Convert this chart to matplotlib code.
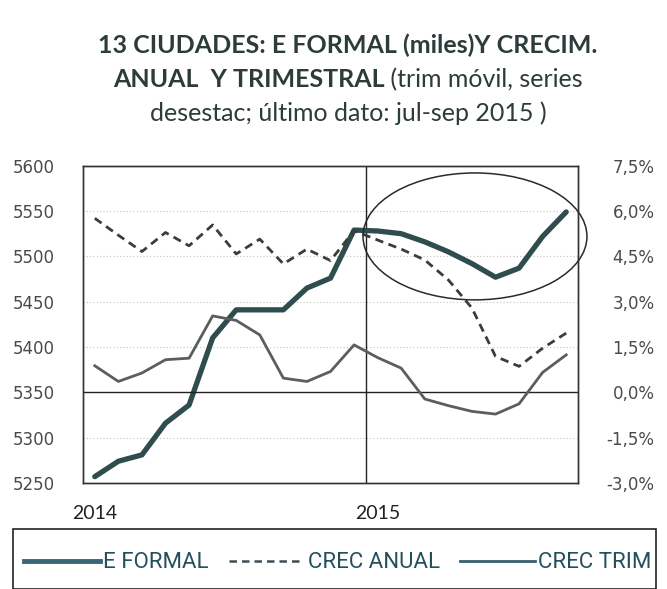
import matplotlib
matplotlib.use('Agg')
import matplotlib.pyplot as plt
from matplotlib.lines import Line2D
from matplotlib.patches import Ellipse, Rectangle
import numpy as np

# trimestre movil, ene-2014 .. sep-2015
meses = ['ene-14', 'feb-14', 'mar-14', 'abr-14', 'may-14', 'jun-14', 'jul-14',
         'ago-14', 'sep-14', 'oct-14', 'nov-14', 'dic-14', 'ene-15', 'feb-15',
         'mar-15', 'abr-15', 'may-15', 'jun-15', 'jul-15', 'ago-15', 'sep-15']
e_formal = [5257, 5274, 5281, 5316, 5336, 5410, 5441, 5441, 5441, 5465, 5476,
            5529, 5528, 5525, 5516, 5505, 5492, 5477, 5487, 5522, 5549]
crec_anual = [5.76, 5.20, 4.66, 5.29, 4.85, 5.54, 4.58, 5.07, 4.25, 4.74, 4.36,
              5.35, 5.04, 4.74, 4.38, 3.72, 2.79, 1.19, 0.86, 1.46, 1.96]
crec_trim = [0.88, 0.36, 0.64, 1.08, 1.13, 2.53, 2.38, 1.90, 0.47, 0.36, 0.69,
             1.57, 1.15, 0.80, -0.22, -0.44, -0.63, -0.72, -0.38, 0.66, 1.24]
year_ticks = [0, 12]
year_labels = ['2014', '2015']
left_ticks = [5250, 5300, 5350, 5400, 5450, 5500, 5550, 5600]
right_ticks = [-3.0, -1.5, 0.0, 1.5, 3.0, 4.5, 6.0, 7.5]

col_formal = '#2f4c4e'
col_anual = '#3c3c3c'
col_trim = '#5a5e5e'
col_text = '#2d3b3b'
col_legend = '#24505c'

W, H = 667, 589
fig = plt.figure(figsize=(W / 100, H / 100), dpi=100)
fig.patch.set_facecolor('white')

ax = fig.add_axes([83 / W, 1 - 483 / H, (578 - 83) / W, (483 - 165.7) / H])
ax2 = ax.twinx()
x = np.arange(len(meses))

ax.set_xlim(-0.5, len(meses) - 0.5)
ax.set_ylim(5250, 5600)
ax.set_yticks(left_ticks)
ax.set_yticklabels([str(v) for v in left_ticks])
ax.tick_params(axis='y', length=0, pad=20, labelsize=12, labelcolor='#4a4a4a')
ax.set_xticks(year_ticks)
ax.set_xticklabels(year_labels, fontfamily='Lato', fontsize=14, color='#222222')
ax.tick_params(axis='x', length=0, pad=16)
for v in left_ticks[1:-1]:
    ax.axhline(v, color='#c4c4c4', lw=0.8, ls=(0, (1, 2)), zorder=0)

ax2.set_ylim(-3.0, 7.5)
ax2.set_yticks(right_ticks)
ax2.set_yticklabels([f'{v:.1f}%'.replace('.', ',') for v in right_ticks])
ax2.tick_params(axis='y', length=0, pad=55, labelsize=12, labelcolor='#4a4a4a')
for lab in ax2.get_yticklabels():
    lab.set_horizontalalignment('right')

for a in (ax, ax2):
    for s in a.spines.values():
        s.set_color('#333333')
        s.set_linewidth(1.0)

ax2.axhline(0, color='#222222', lw=1.0, zorder=1)
ax.axvline(11.5, color='#222222', lw=1.0, zorder=1)

ax.plot(x, e_formal, color=col_formal, lw=3.8, solid_capstyle='round', zorder=3)
ax2.plot(x, crec_anual, color=col_anual, lw=2.0, dashes=(3, 2), zorder=3)
ax2.plot(x, crec_trim, color=col_trim, lw=2.0, zorder=3)

ax2.add_patch(Ellipse((16.13, 5.16), 9.5, 4.2, transform=ax2.transData,
                      facecolor='none', edgecolor='#2a2a2a', lw=1.1, clip_on=False, zorder=4))

# title
renderer = fig.canvas.get_renderer()
tkw = dict(fontfamily='Lato', fontsize=18, color=col_text, va='center')
cx = 348 / W
fig.text(cx, 1 - 45 / H, '13 CIUDADES: E FORMAL (miles)Y CRECIM.', ha='center', fontweight='bold', **tkw)
t_a = fig.text(0, 1 - 80 / H, 'ANUAL  Y TRIMESTRAL', ha='left', fontweight='bold', **tkw)
t_b = fig.text(0, 1 - 80 / H, ' (trim móvil, series', ha='left', **tkw)
wa = t_a.get_window_extent(renderer).width
wb = t_b.get_window_extent(renderer).width
x0 = 348 - (wa + wb) / 2
t_a.set_x(x0 / W)
t_b.set_x((x0 + wa) / W)
fig.text(cx, 1 - 113 / H, 'desestac; último dato: jul-sep 2015 )', ha='center', **tkw)

# legend box
fig.patches.append(Rectangle((12.7 / W, 0), (656 - 12.7) / W, 1 - 529 / H,
                             transform=fig.transFigure, facecolor='none',
                             edgecolor='#222222', lw=1.2))
handles = [Line2D([], [], color='#3a6676', lw=3.5),
           Line2D([], [], color='#3f4f55', lw=1.8, dashes=(3, 2)),
           Line2D([], [], color='#3a6070', lw=2.0)]
fig.legend(handles, ['E FORMAL', 'CREC ANUAL', 'CREC TRIM'], loc='center',
           bbox_to_anchor=(338 / W, 1 - 563 / H), ncol=3, frameon=False,
           handlelength=3.4, handletextpad=0.15, columnspacing=0.9,
           prop={'family': 'Roboto', 'size': 16}, labelcolor=col_legend)

fig.savefig('out.png', dpi=100)
